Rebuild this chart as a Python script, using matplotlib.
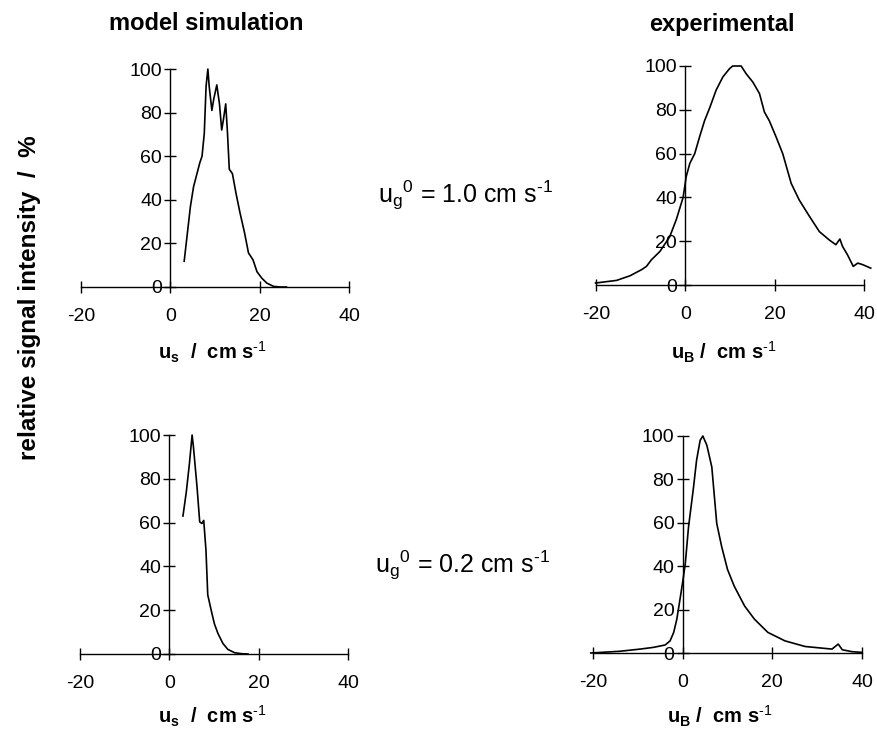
import matplotlib
matplotlib.use("Agg")
import matplotlib.pyplot as plt
import numpy as np

plt.rcParams['font.family'] = ['Liberation Sans', 'DejaVu Sans']
plt.rcParams['mathtext.fontset'] = 'custom'
plt.rcParams['mathtext.rm'] = 'Liberation Sans'
plt.rcParams['mathtext.bf'] = 'Liberation Sans:bold'
plt.rcParams['mathtext.it'] = 'Liberation Sans:italic'
plt.rcParams['axes.unicode_minus'] = False

# ---- data ----
sim1_x = [3.1, 4.5, 5.2, 6.6, 7.1, 7.6, 8.0, 8.4, 8.7, 9.3, 9.7, 10.4, 11.0, 11.5, 11.9,
          12.4, 12.8, 13.2, 13.9, 14.7, 15.6, 16.6, 17.5, 18.5, 19.4, 20.5, 21.6, 23.1, 24.6, 26.0]
sim1_y = [11.8, 37, 46, 57, 60, 70.5, 92, 100, 92, 81, 86, 92.7, 84, 72, 77,
          84, 70.5, 54, 52, 43, 34, 25, 15.6, 12.5, 7, 4, 1.8, 0.3, 0, 0]

exp1_x = [-20.1, -15.4, -12.4, -9.8, -8.7, -7.6, -5.7, -3.5, -2.0, -0.5, 0.2, 1.0, 2.1, 3.2,
          4.3, 5.4, 6.9, 8.4, 9.9, 10.6, 12.5, 13.6, 15.1, 16.6, 17.7, 18.8, 20.3, 21.8,
          23.7, 25.5, 27.8, 30.0, 32.2, 33.7, 34.6, 35.2, 36.3, 37.6, 38.6, 39.7, 41.5]
exp1_y = [0.9, 2.1, 4.2, 7, 8.5, 11.5, 15.3, 22, 30, 40, 49.5, 55.5, 60, 67.7,
          75, 80.6, 89, 95, 98.8, 100, 100, 96.5, 92.7, 87.4, 79, 75, 67.7, 60,
          46.4, 38.8, 31.3, 24.4, 20.6, 18.4, 21, 17.6, 13.8, 8.5, 10, 9.3, 7.7]

sim2_x = [3.05, 3.8, 4.5, 5.1, 5.4, 6.2, 6.8, 7.3, 7.7, 8.2, 8.6, 9.4, 10.1, 10.9,
          12.0, 13.1, 14.6, 16.1, 17.6]
sim2_y = [63, 74, 87, 100, 94.5, 76.3, 60.3, 59.6, 61, 47.4, 27, 19.7, 13.7, 9.3,
          4.8, 2.1, 0.6, 0.15, 0]

exp2_x = [-20.5, -14, -9.5, -6.5, -3.9, -2.8, -2.0, -1.3, -0.5, 0.1, 0.6, 1.3, 2.4, 3.1,
          3.9, 4.5, 5.4, 6.5, 7.6, 8.7, 10.0, 11.5, 13.8, 16.0, 19.0, 22.8, 27.3, 33.3,
          34.7, 35.6, 37.8, 40.0]
exp2_y = [0, 0.8, 1.8, 2.6, 3.7, 5.6, 9.5, 15.6, 26, 34, 41.5, 58, 76, 88.8,
          98, 100, 95.7, 85.7, 59.7, 49, 38.5, 30.8, 21.7, 15.6, 9.5, 5.6, 3.0, 1.8,
          4.1, 1.5, 0.6, 0.3]

x_ticks = [-20, 0, 20, 40]
y_ticks = [0, 20, 40, 60, 80, 100]
col_titles = ["model simulation", "experimental"]
row_labels = [r"u$_\mathrm{g}$$^\mathrm{0}$ = 1.0 cm s$^{\text{-1}}$",
              r"u$_\mathrm{g}$$^\mathrm{0}$ = 0.2 cm s$^{\text{-1}}$"]
xlabels = [r"$\mathbf{u_s}$  /  cm s$^{\mathbf{\text{-1}}}$",
           r"$\mathbf{u_B}$ /  cm s$^{\mathbf{\text{-1}}}$"]
ylabel = "relative signal intensity  /  %"

W, H = 877, 731
fig = plt.figure(figsize=(W / 100, H / 100), dpi=100)


def make_ax(x_m20, x_40, y0, y100, xmax):
    ppu = (x_40 - x_m20) / 60.0
    left = x_m20
    width = ppu * (xmax + 20)
    ax = fig.add_axes([left / W, 1 - y0 / H, width / W, (y0 - y100) / H])
    ax.set_xlim(-20, xmax)
    ax.set_ylim(0, 100)
    for s in ['top', 'right']:
        ax.spines[s].set_visible(False)
    ax.spines['left'].set_position(('data', 0))
    ax.spines['bottom'].set_position(('data', 0))
    ax.spines['bottom'].set_bounds(-20, 40)
    ax.spines['left'].set_bounds(0, 100)
    for s in ['left', 'bottom']:
        ax.spines[s].set_linewidth(1.0)
        ax.spines[s].set_clip_on(False)
    ax.set_xticks(x_ticks)
    ax.set_yticks(y_ticks)
    ax.tick_params(axis='x', direction='inout', length=8, width=1, pad=11, labelsize=14)
    ax.tick_params(axis='y', direction='inout', length=8, width=1, pad=2, labelsize=14)
    ax.patch.set_visible(False)
    return ax


axes = [
    make_ax(81, 349, 287, 69, 40),
    make_ax(596, 864, 285, 66, 42),
    make_ax(80, 348, 654, 435, 40),
    make_ax(593, 862, 653, 436, 42),
]
series = [(sim1_x, sim1_y), (exp1_x, exp1_y), (sim2_x, sim2_y), (exp2_x, exp2_y)]
for ax, (xs, ys) in zip(axes, series):
    ax.plot(xs, ys, color='black', lw=1.2, clip_on=False)

# titles
fig.text(206 / W, 1 - 24 / H, col_titles[0], ha='center', va='center',
         fontsize=17, fontweight='bold')
fig.text(722 / W, 1 - 24 / H, col_titles[1], ha='center', va='center',
         fontsize=17, fontweight='bold')

# row labels
fig.text(466 / W, 1 - 195 / H, row_labels[0], ha='center', va='center', fontsize=18)
fig.text(463 / W, 1 - 565 / H, row_labels[1], ha='center', va='center', fontsize=18)

# x labels
for (xc, yc, lab) in [(212, 352, xlabels[0]), (724, 352, xlabels[1]),
                      (212, 716, xlabels[0]), (720, 716, xlabels[1])]:
    fig.text(xc / W, 1 - yc / H, lab, ha='center', va='center',
             fontsize=14.5, fontweight='bold')

# y label
fig.text(30 / W, 1 - 298 / H, ylabel, rotation=90, ha='center', va='center',
         fontsize=17.5, fontweight='bold')

fig.savefig("out.png", dpi=100)
